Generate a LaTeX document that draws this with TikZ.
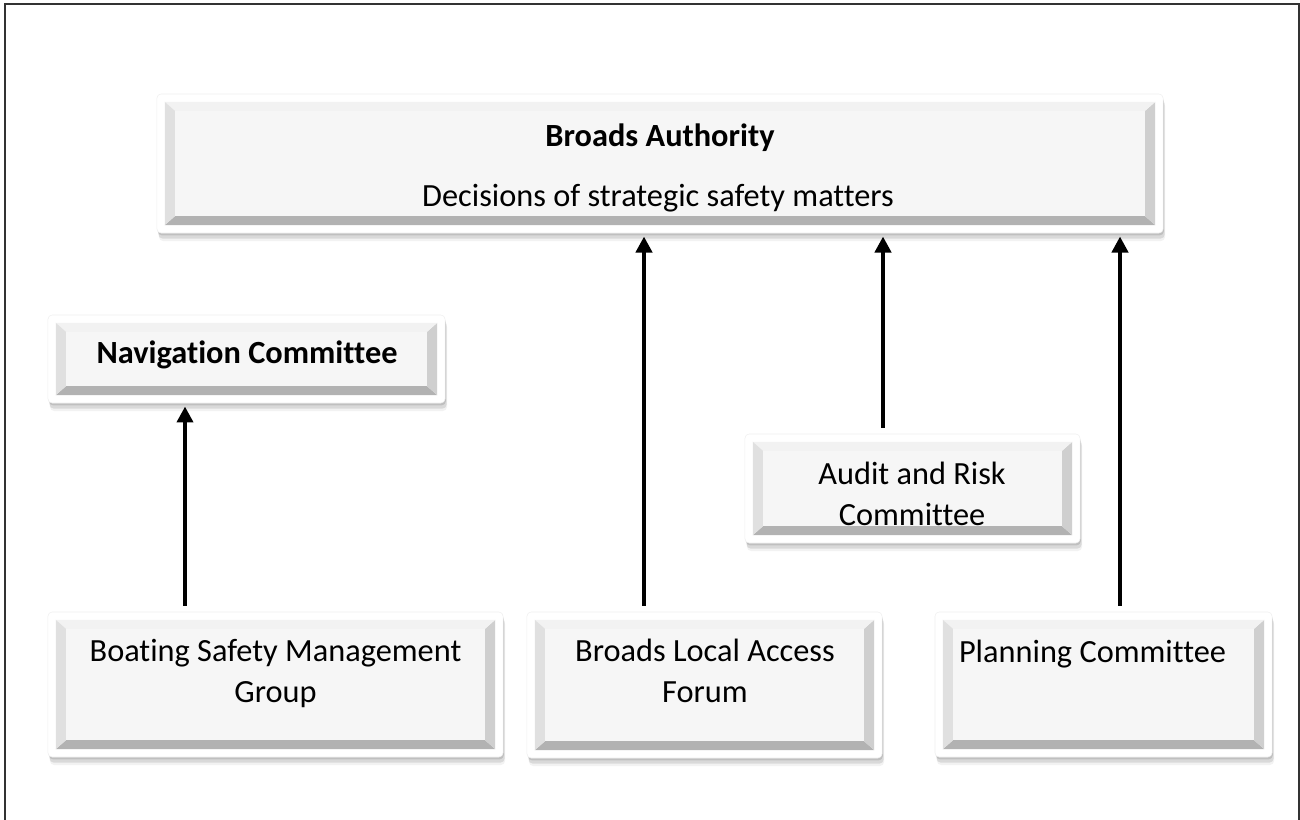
\documentclass[tikz,border=0pt]{standalone}
\usepackage{fontspec}
\setmainfont{Carlito}[Ligatures=CommonOff]
\usetikzlibrary{arrows.meta,shadows}

\begin{document}
\begin{tikzpicture}[x=0.025cm,y=-0.025cm,
  font=\fontsize{23}{29}\selectfont,
  panel/.style={draw=gray!12, fill=white, rounded corners=3pt, inner sep=0pt,
    drop shadow={shadow xshift=0.02cm,shadow yshift=-0.06cm,opacity=0.12,fill=black},
    drop shadow={shadow xshift=0.04cm,shadow yshift=-0.14cm,opacity=0.10,fill=black},
    drop shadow={shadow xshift=0.05cm,shadow yshift=-0.2cm,opacity=0.05,fill=black},
    path picture={
      \coordinate (o1) at ([xshift=0.2cm,yshift=0.2cm]path picture bounding box.south west);
      \coordinate (o2) at ([xshift=-0.2cm,yshift=0.2cm]path picture bounding box.south east);
      \coordinate (o3) at ([xshift=-0.2cm,yshift=-0.2cm]path picture bounding box.north east);
      \coordinate (o4) at ([xshift=0.2cm,yshift=-0.2cm]path picture bounding box.north west);
      \coordinate (i1) at ([xshift=0.25cm,yshift=0.22cm]o1);
      \coordinate (i2) at ([xshift=-0.25cm,yshift=0.22cm]o2);
      \coordinate (i3) at ([xshift=-0.25cm,yshift=-0.22cm]o3);
      \coordinate (i4) at ([xshift=0.25cm,yshift=-0.22cm]o4);
      \fill[sharp corners,gray!60] (o1) -- (o2) -- (i2) -- (i1) -- cycle;
      \fill[sharp corners,gray!38] (o2) -- (o3) -- (i3) -- (i2) -- cycle;
      \fill[sharp corners,gray!10] (o3) -- (o4) -- (i4) -- (i3) -- cycle;
      \fill[sharp corners,gray!24] (o4) -- (o1) -- (i1) -- (i4) -- cycle;
      \fill[sharp corners,gray!7] (i1) rectangle (i3);
    }},
  link/.style={line width=0.1cm,-{Triangle[width=0.4cm,length=0.4cm]},shorten >=0.08cm,shorten <=0.15cm}]
\useasboundingbox (0,0) rectangle (1300,820);
\draw[line width=0.04cm,black!80] (5,830) -- (5,4) -- (1299,4) -- (1299,830);

\node[panel,minimum width=25.15cm,minimum height=3.475cm] (ba) at (660,163.5) {};
\node[panel,minimum width=9.925cm,minimum height=2.2cm] (nav) at (246.5,359) {};
\node[panel,minimum width=8.375cm,minimum height=2.725cm] (audit) at (912.5,488.5) {};
\node[panel,minimum width=11.375cm,minimum height=3.625cm] (boat) at (275.5,684.5) {};
\node[panel,minimum width=8.875cm,minimum height=3.65cm] (local) at (704.5,685) {};
\node[panel,minimum width=8.425cm,minimum height=3.625cm] (plan) at (1103.5,684.5) {};

\node[anchor=base,font=\fontsize{23}{29}\selectfont\bfseries] (ba-t1) at (660,147) {Broads Authority};
\node[anchor=base] (ba-t2) at (658,207) {Decisions of strategic safety matters};
\node[anchor=base,font=\fontsize{23}{29}\selectfont\bfseries] (nav-t) at (247,363) {Navigation Committee};
\node[anchor=base,align=center] (audit-t) at (912,525) {Audit and Risk\\Committee};
\node[anchor=base,align=center] (boat-t) at (275.5,702) {Boating Safety Management\\Group};
\node[anchor=base,align=center] (local-t) at (705,702) {Broads Local Access\\Forum};
\node[anchor=base] (plan-t) at (1092.5,662) {Planning Committee};

\draw[link] (185,0 |- boat.north) -- (185,0 |- nav.south);
\draw[link] (644,0 |- local.north) -- (644,0 |- ba.south);
\draw[link] (883,0 |- audit.north) -- (883,0 |- ba.south);
\draw[link] (1120,0 |- plan.north) -- (1120,0 |- ba.south);
\end{tikzpicture}
\end{document}
